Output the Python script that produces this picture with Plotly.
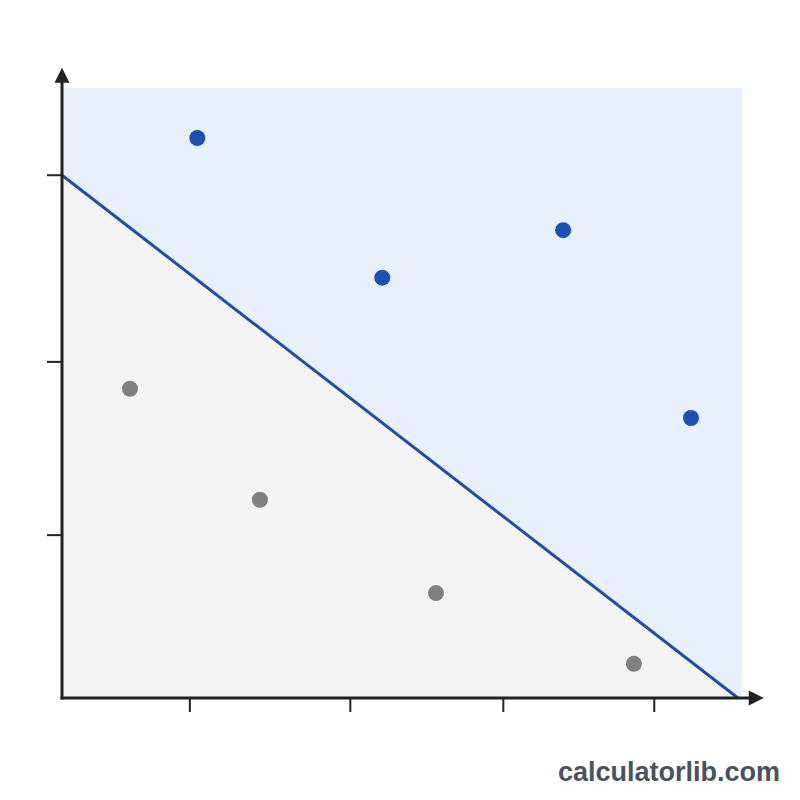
import plotly.graph_objects as go

# data (arbitrary units)
blue_x = [1.99, 4.71, 7.37, 9.25]
blue_y = [9.18, 6.89, 7.67, 4.59]
gray_x = [1.00, 2.91, 5.50, 8.41]
gray_y = [5.07, 3.25, 1.72, 0.56]
boundary_x = [0.0, 9.94]
boundary_y = [8.57, 0.0]
x_ticks = [1.88, 4.24, 6.49, 8.71]
y_ticks = [8.57, 5.51, 2.67]
region_xmax = 10.0
region_ymax = 10.0
axis_xmax = 10.32
axis_ymax = 10.33

PX_X = 68.0
PX_Y = 61.0
x_range = [-62 / PX_X, (800 - 62) / PX_X]
y_range = [-(800 - 698) / PX_Y, 698 / PX_Y]

fig = go.Figure()

# blue region (whole rectangle)
fig.add_trace(go.Scatter(
    x=[0, region_xmax, region_xmax, 0, 0],
    y=[0, 0, region_ymax, region_ymax, 0],
    fill="toself", fillcolor="#e8f0fc", line=dict(width=0),
    mode="lines", hoverinfo="skip", showlegend=False))
# gray triangle below boundary
fig.add_trace(go.Scatter(
    x=[0, boundary_x[1], 0, 0],
    y=[boundary_y[0], 0, 0, boundary_y[0]],
    fill="toself", fillcolor="#f4f4f4", line=dict(width=0),
    mode="lines", hoverinfo="skip", showlegend=False))
# boundary
fig.add_trace(go.Scatter(
    x=boundary_x, y=boundary_y, mode="lines",
    line=dict(color="#1f4ea6", width=3), showlegend=False))
# points
fig.add_trace(go.Scatter(
    x=blue_x, y=blue_y, mode="markers",
    marker=dict(color="#1b50b4", size=16), showlegend=False))
fig.add_trace(go.Scatter(
    x=gray_x, y=gray_y, mode="markers",
    marker=dict(color="#808080", size=16), showlegend=False))

shapes = []
for t in x_ticks:
    shapes.append(dict(type="line", xref="x", yref="y",
                       x0=t, x1=t, y0=0, y1=-14 / PX_Y,
                       line=dict(color="#222222", width=2)))
for t in y_ticks:
    shapes.append(dict(type="line", xref="x", yref="y",
                       x0=0, x1=-15 / PX_X, y0=t, y1=t,
                       line=dict(color="#222222", width=2)))

annotations = [
    dict(x=axis_xmax, y=0, ax=-3 / PX_X, ay=0, xref="x", yref="y",
         axref="x", ayref="y", showarrow=True, arrowhead=2,
         arrowsize=1.0, arrowwidth=3, arrowcolor="#222222", text=""),
    dict(x=0, y=axis_ymax, ax=0, ay=-3 / PX_Y, xref="x", yref="y",
         axref="x", ayref="y", showarrow=True, arrowhead=2,
         arrowsize=1.0, arrowwidth=3, arrowcolor="#222222", text=""),
    dict(x=782 / 800, y=1 - 772 / 800, xref="paper", yref="paper",
         text="<b>calculatorlib.com</b>",
         showarrow=False, xanchor="right", yanchor="middle",
         font=dict(family="Liberation Sans, Arial", size=27, color="#4a5261")),
]

fig.update_layout(
    width=800, height=800,
    margin=dict(l=0, r=0, t=0, b=0),
    paper_bgcolor="white", plot_bgcolor="white",
    xaxis=dict(range=x_range, visible=False, fixedrange=True),
    yaxis=dict(range=y_range, visible=False, fixedrange=True),
    shapes=shapes, annotations=annotations,
)

fig.write_html("out.html")
